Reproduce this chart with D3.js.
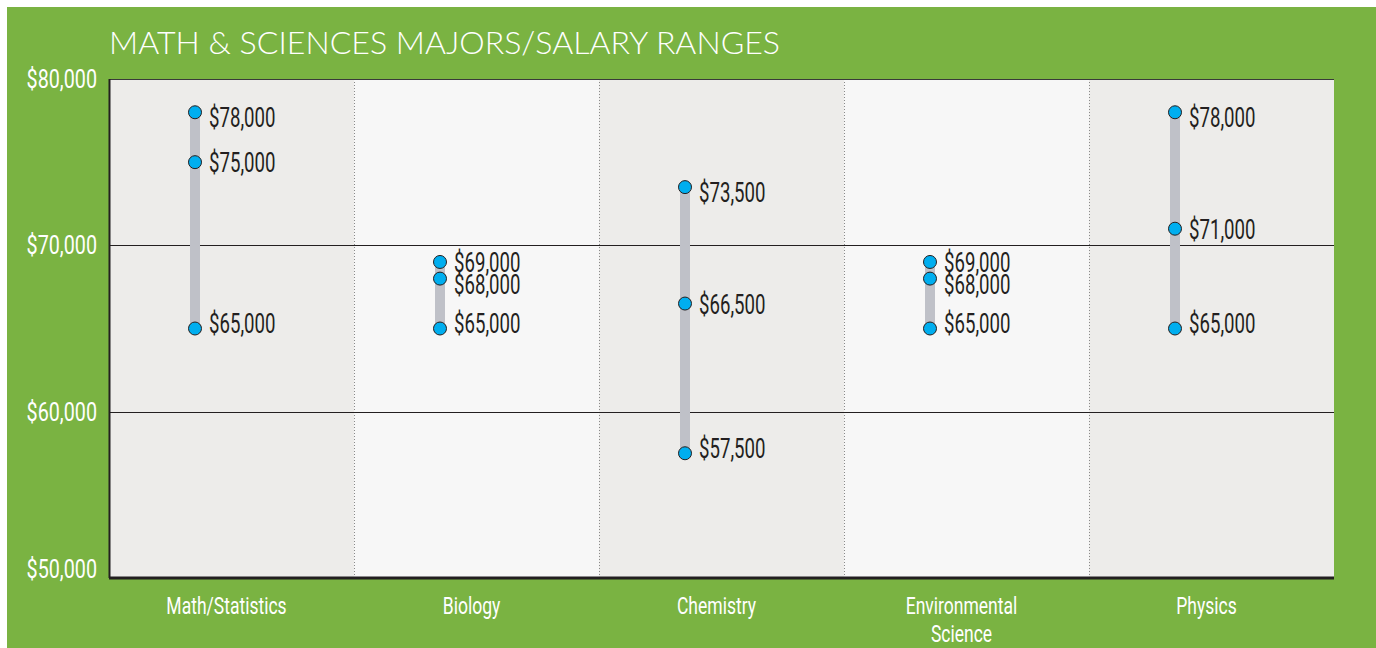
<!DOCTYPE html>
<html>
<head>
<meta charset="utf-8">
<script src="https://cdn.jsdelivr.net/npm/d3@7"></script>
<style>
  body { margin: 0; background: #fff; }
  svg { display: block; }
  .num { font-family: Roboto, "DejaVu Sans Condensed", sans-serif; }
</style>
</head>
<body>
<svg id="chart" width="1376" height="648"></svg>
<script>
var TITLE = "MATH & SCIENCES MAJORS/SALARY RANGES";
var majors = ["Math/Statistics", "Biology", "Chemistry", "Environmental Science", "Physics"];
var lowSalary = [65000, 65000, 57500, 65000, 65000];
var midSalary = [75000, 68000, 66500, 68000, 71000];
var highSalary = [78000, 69000, 73500, 69000, 78000];
var yTicks = [50000, 60000, 70000, 80000];

var GREEN = "#7ab342";
var DOT = "#00aeef";
var BAR = "#bfc1c8";
var INK = "#231f20";

var svg = d3.select("#chart");
var margin = {left: 109, top: 79, right: 1334, bottom: 578};

// squeeze text horizontally around its anchor x
var squeeze = function(ax, k) {
  return "translate(" + ax + ",0) scale(" + k + ",1) translate(" + (-ax) + ",0)";
};

svg.append("rect")
  .attr("x", 7).attr("y", 7)
  .attr("width", 1369).attr("height", 641)
  .attr("fill", GREEN);

var x = d3.scaleBand().domain(majors).range([margin.left, margin.right]);
var y = d3.scaleLinear().domain([50000, 80000]).range([margin.bottom, margin.top]);

// column backgrounds
svg.append("g").selectAll("rect")
  .data(majors)
  .join("rect")
  .attr("x", function(d) { return x(d); })
  .attr("y", margin.top)
  .attr("width", x.bandwidth())
  .attr("height", margin.bottom - margin.top)
  .attr("fill", function(d, i) { return i % 2 == 0 ? "#edecea" : "#f7f7f7"; });

// dotted dividers
svg.append("g").selectAll("line")
  .data(majors.slice(1))
  .join("line")
  .attr("x1", function(d) { return x(d) + 0.5; })
  .attr("x2", function(d) { return x(d) + 0.5; })
  .attr("y1", margin.top).attr("y2", margin.bottom)
  .attr("stroke", "#8a8a8a")
  .attr("stroke-width", 1)
  .attr("stroke-dasharray", "1,2");

// grid lines
svg.append("g").selectAll("line")
  .data(yTicks.slice(1, 3))
  .join("line")
  .attr("x1", margin.left).attr("x2", margin.right)
  .attr("y1", function(d) { return Math.round(y(d)) + 0.5; })
  .attr("y2", function(d) { return Math.round(y(d)) + 0.5; })
  .attr("stroke", INK).attr("stroke-width", 1);

// frame
svg.append("line")
  .attr("x1", margin.left).attr("x2", margin.right)
  .attr("y1", margin.top + 0.5).attr("y2", margin.top + 0.5)
  .attr("stroke", "#3a3a3a").attr("stroke-width", 1);
svg.append("line")
  .attr("x1", margin.left + 0.5).attr("x2", margin.left + 0.5)
  .attr("y1", margin.top).attr("y2", margin.bottom)
  .attr("stroke", INK).attr("stroke-width", 2);
svg.append("line")
  .attr("x1", margin.left).attr("x2", margin.right)
  .attr("y1", margin.bottom).attr("y2", margin.bottom)
  .attr("stroke", INK).attr("stroke-width", 3);

// title
svg.append("text")
  .attr("x", 109).attr("y", 54)
  .attr("fill", "#fff")
  .attr("font-family", "Lato, 'Noto Sans', sans-serif")
  .attr("font-weight", 300)
  .attr("font-size", 32)
  .attr("textLength", 671)
  .attr("lengthAdjust", "spacingAndGlyphs")
  .text(TITLE);

// y axis labels
var fmt = d3.format("$,.0f");
svg.append("g").selectAll("text")
  .data(yTicks)
  .join("text")
  .attr("class", "num")
  .attr("x", 97)
  .attr("y", function(d) { return Math.min(y(d) + 9, margin.bottom); })
  .attr("text-anchor", "end")
  .attr("fill", "#fff")
  .attr("font-size", 25)
  .attr("transform", squeeze(97, 0.79))
  .text(fmt);

// x axis labels
svg.append("g").selectAll("text")
  .data(majors)
  .join("text")
  .attr("class", "num")
  .attr("text-anchor", "middle")
  .attr("fill", "#fff")
  .attr("font-size", 24)
  .each(function(d) {
    var cx = x(d) + x.bandwidth() / 2 - 5;
    var words = d == "Environmental Science" ? ["Environmental", "Science"] : [d];
    d3.select(this).selectAll("tspan")
      .data(words)
      .join("tspan")
      .attr("x", cx)
      .attr("y", function(w, i) { return 614 + i * 28; })
      .text(function(w) { return w; });
    d3.select(this).attr("transform", squeeze(cx, 0.73));
  });

// ranges
var rows = majors.map(function(m, i) {
  return {major: m, vals: [highSalary[i], midSalary[i], lowSalary[i]]};
});
var lineX = function(m) { return x(m) + 86; };

var g = svg.append("g");
g.selectAll("rect.range")
  .data(rows)
  .join("rect")
  .attr("class", "range")
  .attr("x", function(d) { return lineX(d.major) - 5; })
  .attr("y", function(d) { return y(d.vals[0]); })
  .attr("width", 10)
  .attr("height", function(d) { return y(d.vals[2]) - y(d.vals[0]); })
  .attr("fill", BAR);

// label baselines: top label sits lower, bottom label higher; split apart when crowded
var offsets = [15, 10, 5];
var points = [];
rows.forEach(function(r) {
  var pts = r.vals.map(function(v, k) {
    return {major: r.major, v: v, labelY: y(v) + offsets[k]};
  });
  for (var k = 1; k < pts.length; ++k) {
    var gap = pts[k].labelY - pts[k - 1].labelY;
    if (gap < 22) {
      var half = (22 - gap) / 2;
      pts[k - 1].labelY -= half;
      pts[k].labelY += half;
    }
  }
  points = points.concat(pts);
});

g.selectAll("circle")
  .data(points)
  .join("circle")
  .attr("cx", function(d) { return lineX(d.major); })
  .attr("cy", function(d) { return y(d.v); })
  .attr("r", 6.5)
  .attr("fill", DOT)
  .attr("stroke", INK)
  .attr("stroke-width", 1);

g.selectAll("text")
  .data(points)
  .join("text")
  .attr("class", "num")
  .attr("x", function(d) { return lineX(d.major) + 14; })
  .attr("y", function(d) { return d.labelY; })
  .attr("fill", INK)
  .attr("font-size", 27)
  .attr("transform", function(d) { return squeeze(lineX(d.major) + 14, 0.69); })
  .text(function(d) { return fmt(d.v); });
</script>
</body>
</html>
